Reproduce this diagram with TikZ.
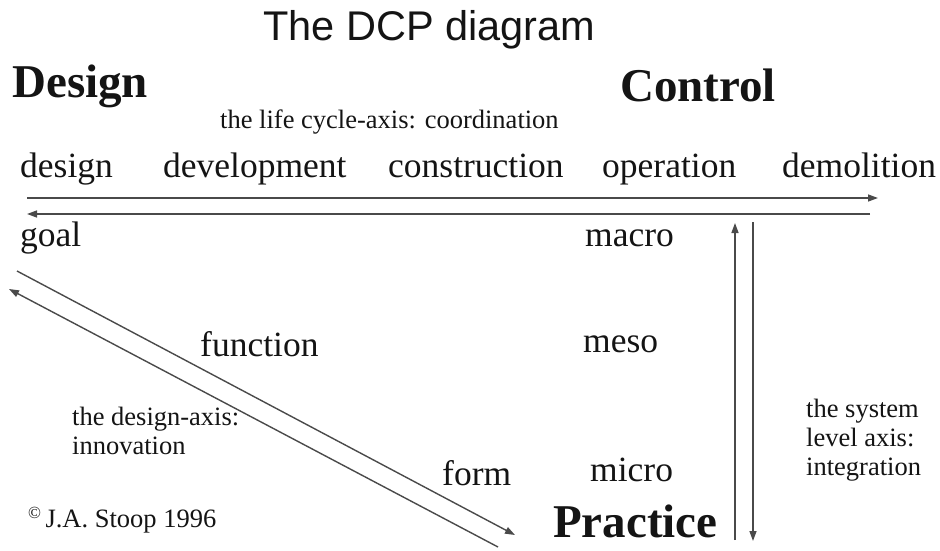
\documentclass[tikz,border=0pt]{standalone}
\usepackage{fontspec}
\setmainfont{Liberation Serif}
\newfontfamily\headfont{Liberation Sans}
\usetikzlibrary{positioning,arrows.meta}
\definecolor{ink}{HTML}{141414}
\definecolor{axisgray}{HTML}{4A4A4A}

\begin{document}
\begin{tikzpicture}[x=1pt,y=-1pt,
  word/.style={inner sep=0pt, anchor=base west, text=ink, font=\fontsize{35.5}{40}\selectfont},
  pole/.style={inner sep=0pt, anchor=base west, text=ink, font=\fontsize{47}{52}\selectfont\bfseries},
  note/.style={inner sep=0pt, anchor=base west, text=ink, align=left, font=\fontsize{26.5}{29}\selectfont},
  axis/.style={draw=axisgray, line width=1.4pt},
  tip/.style={-{Triangle[length=10pt,width=7pt]}}]
\useasboundingbox (0,0) rectangle (940,550);

% heading and the three poles
\node[inner sep=0pt, anchor=base west, text=ink, font=\headfont\fontsize{41.5}{46}\selectfont] (title) at (263,40) {The DCP diagram};
\node[pole] (design) at (12,97) {Design};
\node[pole] (control) at (620,101) {Control};
\node[pole] (practice) at (553,537) {Practice};

% life cycle axis
\node[note] (lifecycle) at (220,128) {the life cycle-axis: coordination};
\node[word] (ph1) at (20,177) {design};
\node[word] (ph2) at (163,177) {development};
\node[word] (ph3) at (388,177) {construction};
\node[word] (ph4) at (602,177) {operation};
\node[word] (ph5) at (782,177) {demolition};
\coordinate (lcW) at (27,198);
\coordinate (lcE) at (878,198);
\coordinate (rtE) at (870,214);
\coordinate (rtW) at (27,214);
\draw[axis,tip] (lcW) -- (lcE);
\draw[axis,tip] (rtE) -- (rtW);

% design axis
\node[word] (goal) at (20,246) {goal};
\node[word] (function) at (200,356) {function};
\node[word] (form) at (442,485) {form};
\node[note] (designaxis) at (72,454) {the design-axis:\\innovation};
\coordinate (dgA1) at (17,271);
\coordinate (dgA2) at (515,535);
\coordinate (dgB1) at (498,547);
\coordinate (dgB2) at (9,289);
\draw[axis,tip] (dgA1) -- (dgA2);
\draw[axis,tip] (dgB1) -- (dgB2);

% system level axis
\node[word] (macro) at (585,246) {macro};
\node[word] (meso) at (583,352) {meso};
\node[word] (micro) at (590,481) {micro};
\node[note] (systemaxis) at (806,475) {the system\\level axis:\\integration};
\coordinate (svU1) at (735,540);
\coordinate (svU2) at (735,223);
\coordinate (svD1) at (753,222);
\coordinate (svD2) at (753,541);
\draw[axis,tip] (svU1) -- (svU2);
\draw[axis,tip] (svD1) -- (svD2);

\node[note] (stamp) at (28,527) {\raisebox{9pt}{\fontsize{17}{17}\selectfont\textcopyright}\,J.A. Stoop 1996};
\end{tikzpicture}
\end{document}
